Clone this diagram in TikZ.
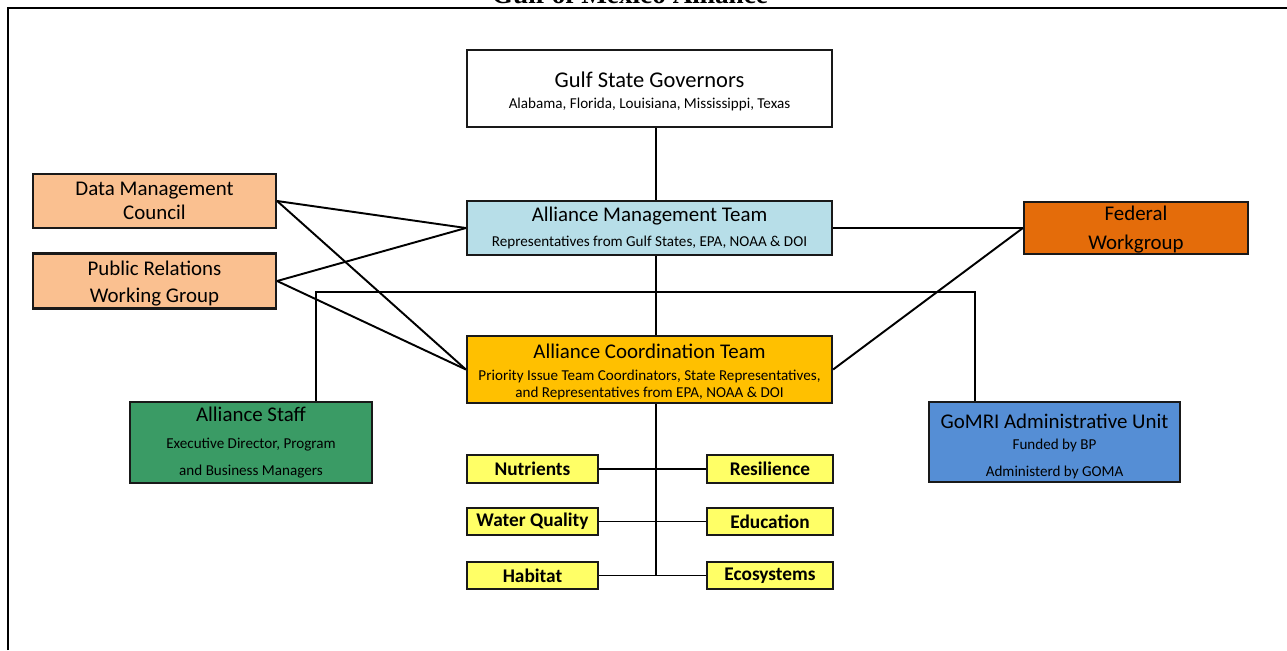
\documentclass[tikz,border=0pt]{standalone}
\usepackage{fontspec}
\setmainfont{Carlito}
\newfontfamily\titleserif{Liberation Serif}
\definecolor{peach}{HTML}{FAC090}
\definecolor{amtblue}{HTML}{B7DEE8}
\definecolor{fworange}{HTML}{E46C0A}
\definecolor{actgold}{HTML}{FFC000}
\definecolor{staffgreen}{HTML}{3A9B65}
\definecolor{gomriblue}{HTML}{558ED5}
\definecolor{pityellow}{HTML}{FFFF66}
\newcommand{\ttlf}{\fontsize{11.9}{14}\selectfont}
\newcommand{\bigttlf}{\fontsize{12.8}{15}\selectfont}
\newcommand{\subf}{\fontsize{8.6}{10.5}\selectfont}
\begin{document}
\begin{tikzpicture}[x=0.02cm,y=-0.02cm,
  box/.style={draw=black!90,line width=1.3pt,align=center,inner sep=0pt,font=\subf},
  twoline/.style={box,font=\ttlf},
  pit/.style={draw=black!90,line width=1.3pt,fill=pityellow,inner sep=0pt,
    minimum width=2.62cm,minimum height=0.55cm,font=\bfseries\fontsize{11}{13}\selectfont},
  conn/.style={line width=1.1pt,black}]
\useasboundingbox (0,0) rectangle (1287,650);
\clip (0,0) rectangle (1287,650);
\fill[white] (0,0) rectangle (1287,650);
% title and frame
\node[anchor=base,font=\titleserif\bfseries\fontsize{15.5}{18}\selectfont] (title) at (630,3.5) {Gulf of Mexico Alliance};
\draw[line width=1.5pt] (8,650) -- (8,8) -- (1287,8);
% main boxes
\node[box,fill=white,minimum width=7.3cm,minimum height=1.54cm] (gsg) at (649.5,88.5)
  {{\bigttlf\rule{0pt}{12pt}Gulf State Governors}\\[1.3pt]Alabama, Florida, Louisiana, Mississippi, Texas};
\node[box,fill=amtblue,minimum width=7.3cm,minimum height=1.08cm] (amt) at (649.5,228)
  {{\ttlf Alliance Management Team}\\[3.6pt]Representatives from Gulf States, EPA, NOAA \& DOI};
\node[box,fill=actgold,minimum width=7.3cm,minimum height=1.34cm] (act) at (649.5,369.5)
  {{\ttlf\rule{0pt}{11.3pt}Alliance Coordination Team}\\[1.8pt]Priority Issue Team Coordinators, State Representatives,\\[-0.3pt]and Representatives from EPA, NOAA \& DOI};
\node[twoline,fill=peach,minimum width=4.86cm,minimum height=1.08cm] (dmc) at (154.5,201)
  {Data Management\\Council};
\node[twoline,fill=peach,minimum width=4.86cm,minimum height=1.1cm] (prwg) at (154.5,281)
  {\rule{0pt}{11pt}Public Relations\\[1.2pt]Working Group};
\node[twoline,fill=fworange,minimum width=4.48cm,minimum height=1.04cm] (fw) at (1136,228)
  {\rule{0pt}{10pt}Federal\\[2pt]Workgroup};
\node[box,fill=staffgreen,minimum width=4.84cm,minimum height=1.62cm] (staff) at (251,442.5)
  {{\ttlf Alliance Staff}\\[4.6pt]Executive Director, Program\\[4.6pt]and Business Managers};
\node[box,fill=gomriblue,minimum width=5.02cm,minimum height=1.6cm] (gomri) at (1054.5,442)
  {{\ttlf\rule{0pt}{13pt}GoMRI Administrative Unit}\\[1.8pt]Funded by BP\\[4.6pt]Administerd by GOMA};
% priority issue teams
\node[pit] (nutr) at (532.5,469) {Nutrients};
\node[pit] (wq) at (532.5,521.5) {Water Quality};
\node[pit] (hab) at (532.5,575.5) {Habitat};
\node[pit,minimum width=2.52cm] (resil) at (770,469) {Resilience};
\node[pit,minimum width=2.52cm] (edu) at (770,521.5) {Education};
\node[pit,minimum width=2.52cm] (eco) at (770,575.5) {Ecosystems};
% connectors
\coordinate (spx) at (656,0);
\coordinate (busL) at (316,292);
\coordinate (busR) at (975,292);
\draw[conn] (gsg.south -| spx) -- (amt.north -| spx);
\draw[conn] (amt.south -| spx) -- (act.north -| spx);
\draw[conn] (act.south -| spx) -- (hab.east -| spx);
\draw[conn] (nutr.east) -- (resil.west);
\draw[conn] (wq.east) -- (edu.west);
\draw[conn] (hab.east) -- (eco.west);
\draw[conn] (staff.north -| busL) -- (busL) -- (busR) -- (gomri.north -| busR);
\draw[conn] (dmc.east) -- (amt.west);
\draw[conn] (dmc.east) -- (act.west);
\draw[conn] (prwg.east) -- (amt.west);
\draw[conn] (prwg.east) -- (act.west);
\draw[conn] (amt.east) -- (fw.west);
\draw[conn] (act.east) -- (fw.west);
\end{tikzpicture}
\end{document}
